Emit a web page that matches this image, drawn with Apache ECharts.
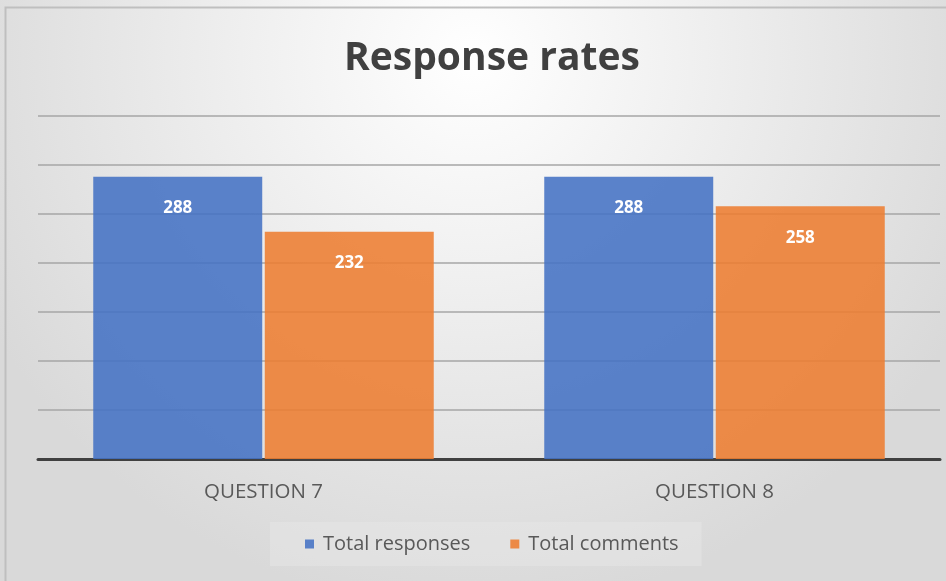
<!DOCTYPE html>
<html>
<head>
<meta charset="utf-8">
<script src="https://cdn.jsdelivr.net/npm/echarts@6/dist/echarts.min.js"></script>
<style>
  html, body { margin: 0; padding: 0; background: #fff; }
  #chart { width: 946px; height: 581px; }
</style>
</head>
<body>
<div id="chart"></div>
<script>
// 数据
const categories = ['QUESTION 7', 'QUESTION 8'];
const totalResponses = [288, 288];
const totalComments = [232, 258];

const chart = echarts.init(document.getElementById('chart'));
chart.setOption({
  animation: false,
  backgroundColor: {
    type: 'radial', x: 0.5, y: 0.1, r: 0.95,
    colorStops: [
      { offset: 0, color: '#ffffff' },
      { offset: 1, color: '#d9d9d9' }
    ]
  },
  graphic: [
    {
      type: 'rect',
      shape: { x: 5.5, y: 7.5, width: 946, height: 580 },
      style: { fill: 'none', stroke: '#bfbfbf', lineWidth: 2 },
      silent: true
    }
  ],
  title: {
    text: 'Response rates',
    left: 339,
    top: 34,
    textStyle: {
      fontFamily: 'Open Sans',
      fontSize: 39,
      fontWeight: 'bold',
      color: '#404040'
    }
  },
  legend: {
    bottom: 15,
    left: 270,
    itemWidth: 9,
    itemHeight: 9,
    itemGap: 40,
    padding: [12, 23, 12, 35],
    backgroundColor: 'rgba(230,230,230,0.55)',
    icon: 'rect',
    textStyle: { fontFamily: 'Open Sans', fontSize: 20, color: '#595959', padding: [0, 0, 0, 4] },
    data: ['Total responses', 'Total comments']
  },
  grid: { left: 38, right: 6, top: 116, bottom: 122 },
  xAxis: {
    type: 'category',
    data: categories,
    axisTick: { show: false },
    axisLine: { lineStyle: { color: '#404040', width: 3 } },
    axisLabel: { margin: 23, fontFamily: 'Open Sans', fontSize: 20.5, color: '#595959' }
  },
  yAxis: {
    type: 'value',
    min: 0,
    max: 350,
    interval: 50,
    axisLabel: { show: false },
    axisLine: { show: false },
    splitLine: { lineStyle: { color: '#a6a6a6', width: 1.5 } }
  },
  series: [
    {
      name: 'Total responses',
      type: 'bar',
      data: totalResponses,
      barGap: '1.5%',
      barCategoryGap: '24.5%',
      itemStyle: { color: 'rgba(68,114,196,0.88)' },
      label: {
        show: true, position: 'insideTop', distance: 23,
        color: '#fff', fontWeight: 'bold', fontSize: 17, fontFamily: 'Open Sans'
      }
    },
    {
      name: 'Total comments',
      type: 'bar',
      data: totalComments,
      itemStyle: { color: 'rgba(237,125,49,0.88)' },
      label: {
        show: true, position: 'insideTop', distance: 23,
        color: '#fff', fontWeight: 'bold', fontSize: 17, fontFamily: 'Open Sans'
      }
    }
  ]
});
</script>
</body>
</html>
